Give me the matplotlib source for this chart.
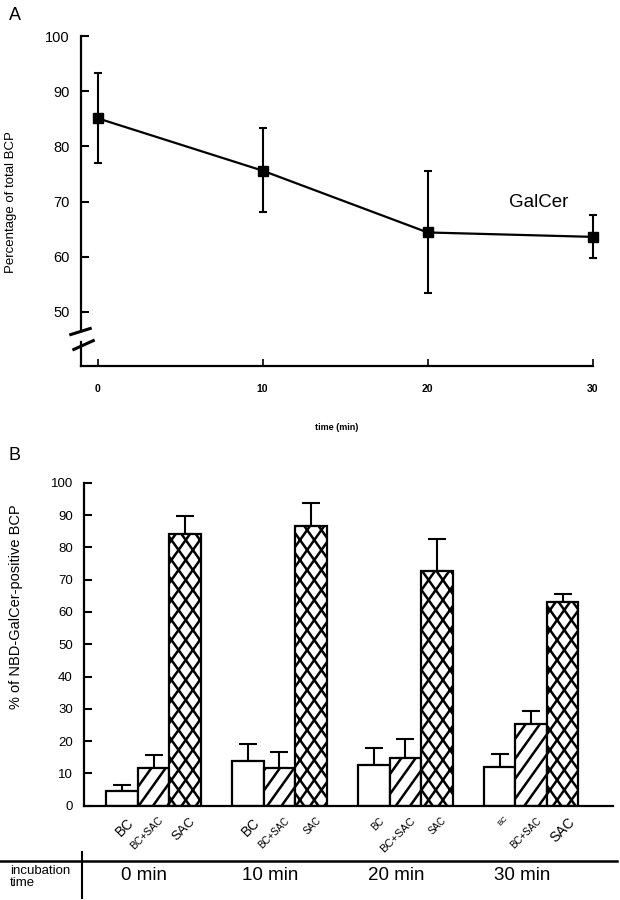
import numpy as np
import matplotlib
matplotlib.use("Agg")
import matplotlib.pyplot as plt
import matplotlib.hatch as mhatch
from matplotlib.path import Path
from matplotlib.lines import Line2D

plt.rcParams['font.family'] = ['Liberation Sans', 'DejaVu Sans']
plt.rcParams['hatch.linewidth'] = 1.8

# ---------- Panel A data ----------
times = [0, 10, 20, 30]
galcer_mean = [85.1, 75.6, 64.4, 63.6]
galcer_low = [77.0, 68.1, 53.5, 59.7]
galcer_high = [93.3, 83.4, 75.5, 67.6]
a_yticks = [50, 60, 70, 80, 90, 100]

# ---------- Panel B data ----------
groups = ['0 min', '10 min', '20 min', '30 min']
treatments = ['BC', 'BC+SAC', 'SAC']
bc_vals = [4.6, 13.7, 12.7, 12.0]
bc_err = [1.8, 5.4, 5.3, 3.9]
bcsac_vals = [11.8, 11.8, 14.9, 25.2]
bcsac_err = [3.9, 4.7, 5.7, 4.1]
sac_vals = [84.1, 86.6, 72.7, 63.2]
sac_err = [5.7, 7.0, 9.9, 2.2]
b_yticks = list(range(0, 101, 10))
# per-label font sizes of the treatment labels (as printed)
label_sizes = [[10, 7.5, 9.5], [10, 7, 7], [7, 8, 7], [5.5, 7, 10]]


# ---- steeper diagonal hatch (as in the printed figure) ----
class _SteepHatch(mhatch.HatchPatternBase):
    chars = ''
    sign = 1
    k = 1.4

    def __init__(self, hatch, density):
        cnt = sum(hatch.count(c) for c in self.chars)
        self.n = int(cnt * 7)
        if self.n:
            self.idx = np.arange(-2 * self.n, 2 * self.n + 1)
            self.num_vertices = len(self.idx) * 2
        else:
            self.num_vertices = 0

    def set_vertices_and_codes(self, vertices, codes):
        x0 = self.idx / self.n
        vertices[0::2, 0] = x0
        vertices[0::2, 1] = 0.0
        vertices[1::2, 0] = x0 + self.sign / self.k
        vertices[1::2, 1] = 1.0
        codes[0::2] = Path.MOVETO
        codes[1::2] = Path.LINETO


class _SteepNE(_SteepHatch):
    chars = '/xX'
    sign = 1


class _SteepSE(_SteepHatch):
    chars = '\\xX'
    sign = -1


try:
    _ht = mhatch._hatch_types
    _ht[_ht.index(mhatch.NorthEastHatch)] = _SteepNE
    _ht[_ht.index(mhatch.SouthEastHatch)] = _SteepSE
except Exception:
    pass

fig = plt.figure(figsize=(6.2, 9.0), dpi=100)

# ================= Panel A =================
axA = fig.add_axes([81/620, 1-366/900, (592.7-81)/620, (366-36)/900])
m = np.array(galcer_mean)
yerr = [m - np.array(galcer_low), np.array(galcer_high) - m]
cont = axA.errorbar(times, galcer_mean, yerr=yerr, color='black', lw=1.6,
                    marker='s', markersize=7, capsize=3, capthick=1.5, elinewidth=1.5)
for art in cont.lines[0:1] + tuple(cont.lines[1]) + tuple(cont.lines[2]):
    art.set_clip_on(False)
axA.set_xlim(-1, 30)
axA.set_ylim(40.2, 100)
axA.spines['top'].set_visible(False)
axA.spines['right'].set_visible(False)
axA.spines['left'].set_visible(False)
axA.spines['bottom'].set_linewidth(1.6)
axA.set_yticks(a_yticks)
axA.set_xticks(times)
axA.tick_params(axis='y', direction='in', length=6, width=1.5, labelsize=10.5, pad=8)
axA.tick_params(axis='x', direction='in', length=5, width=1.2, labelsize=7.5, pad=13)
for lab in axA.get_xticklabels():
    lab.set_fontweight('bold')
# broken left spine
trA = axA.get_yaxis_transform()
axA.add_line(Line2D([0, 0], [46.6, 100], transform=trA, color='black', lw=1.6, clip_on=False))
axA.add_line(Line2D([0, 0], [40.2, 44.6], transform=trA, color='black', lw=1.6, clip_on=False))
axA.add_line(Line2D([-0.02, 0.018], [45.9, 47.0], transform=trA, color='black', lw=2.2, clip_on=False))
axA.add_line(Line2D([-0.014, 0.024], [43.2, 44.8], transform=trA, color='black', lw=2.2, clip_on=False))
axA.text(26.7, 69.9, 'GalCer', fontsize=13.5, ha='center', va='center')
axA.set_xlabel('time (min)', fontsize=6.5, fontweight='bold')
axA.xaxis.set_label_coords(0.5, -0.172)
axA.set_ylabel('Percentage of total BCP', fontsize=9.5)
axA.yaxis.set_label_coords(-0.125, 0.498)
fig.text(15/620, 1-16/900, 'A', fontsize=13, ha='center', va='center')

# ================= Panel B =================
axB = fig.add_axes([84/620, 1-805.7/900, (613-84)/620, (805.7-482.7)/900])
gx = np.arange(len(groups)) * 4
series = [(bc_vals, bc_err, ''), (bcsac_vals, bcsac_err, '/'), (sac_vals, sac_err, 'x')]
for j, (vals, errs, hatch) in enumerate(series):
    axB.bar(gx + j, vals, width=1.0, color='white', edgecolor='black',
            linewidth=1.6, hatch=hatch, zorder=2)
    axB.errorbar(gx + j, vals, yerr=[np.zeros(len(vals)), errs], fmt='none',
                 ecolor='black', elinewidth=1.5, capsize=6.5, capthick=1.5, zorder=1)
axB.set_xlim(-1.21, 15.6)
axB.set_ylim(0, 100)
axB.spines['top'].set_visible(False)
axB.spines['right'].set_visible(False)
axB.spines['left'].set_linewidth(1.6)
axB.spines['bottom'].set_linewidth(1.6)
axB.set_yticks(b_yticks)
axB.tick_params(axis='y', direction='in', length=6, width=1.5, labelsize=9.5, pad=8)
axB.set_xticks([])
trB = axB.get_xaxis_transform()
for i in range(len(groups)):
    for j, t in enumerate(treatments):
        axB.text(gx[i] + j + 0.15, -0.03, t, transform=trB, rotation=45,
                 rotation_mode='anchor', ha='right', va='top',
                 fontsize=label_sizes[i][j])
axB.set_ylabel('% of NBD-GalCer-positive BCP', fontsize=10.5)
axB.yaxis.set_label_coords(-0.115, 0.616)
fig.text(15/620, 1-455/900, 'B', fontsize=13, ha='center', va='center')

# incubation-time table under panel B
fig.add_artist(Line2D([0, 617/620], [1-861/900, 1-861/900], color='black', lw=1.8))
fig.add_artist(Line2D([82/620, 82/620], [1-852/900, 1-898/900], color='black', lw=1.5))
fig.text(10/620, 1-877/900, 'incubation\ntime', fontsize=9.5, ha='left', va='center',
         linespacing=0.9)
for i, g in enumerate(groups):
    xfig = axB.transData.transform((gx[i] + 0.7, 0))[0] / fig.bbox.width
    fig.text(xfig, 1-875/900, g, fontsize=13.5, ha='center', va='center')

fig.savefig('out.png', dpi=100)
